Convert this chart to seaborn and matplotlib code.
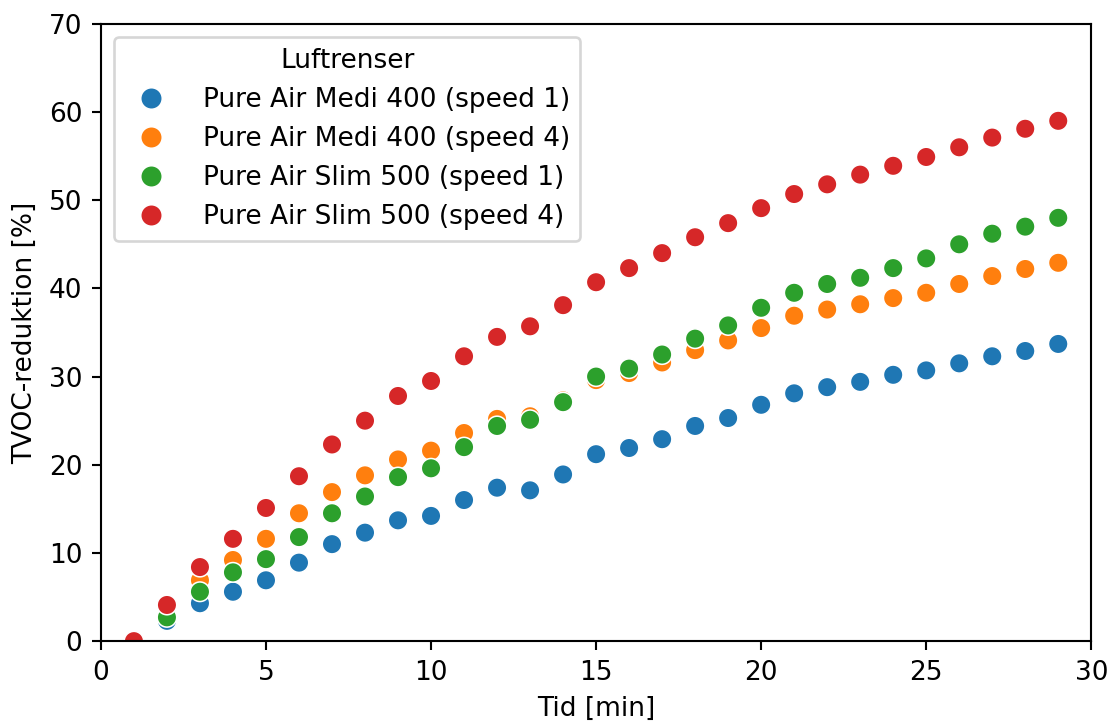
import numpy as np
import pandas as pd
import matplotlib
matplotlib.use("Agg")
import matplotlib.pyplot as plt
import seaborn as sns

# ------------------------------------------------------------
# DATA
# ------------------------------------------------------------
tid = list(range(1, 30))

medi_400_s1 = [0, 2.3, 4.3, 5.6, 6.9, 8.9, 11.0, 12.3, 13.7, 14.2, 16.0, 17.4, 17.1, 18.9,
               21.2, 21.9, 22.9, 24.4, 25.3, 26.8, 28.1, 28.8, 29.4, 30.2, 30.7, 31.5,
               32.3, 32.9, 33.7]
medi_400_s4 = [0, 2.8, 6.9, 9.2, 11.6, 14.5, 16.9, 18.8, 20.6, 21.6, 23.6, 25.2, 25.5, 27.3,
               29.6, 30.4, 31.6, 33.0, 34.1, 35.5, 36.9, 37.6, 38.2, 38.9, 39.5, 40.5,
               41.4, 42.2, 42.9]
slim_500_s1 = [0, 2.7, 5.6, 7.8, 9.3, 11.8, 14.5, 16.4, 18.6, 19.6, 22.0, 24.4, 25.1, 27.1,
               30.0, 30.9, 32.5, 34.3, 35.8, 37.8, 39.5, 40.5, 41.2, 42.3, 43.4, 45.0,
               46.2, 47.0, 48.0]
slim_500_s4 = [0, 4.1, 8.4, 11.6, 15.1, 18.7, 22.3, 25.0, 27.8, 29.5, 32.3, 34.5, 35.7, 38.1,
               40.7, 42.3, 44.0, 45.8, 47.4, 49.1, 50.7, 51.8, 52.9, 53.9, 54.9, 56.0,
               57.1, 58.1, 59.0]

labels = ["Pure Air Medi 400 (speed 1)", "Pure Air Medi 400 (speed 4)",
          "Pure Air Slim 500 (speed 1)", "Pure Air Slim 500 (speed 4)"]
series = [medi_400_s1, medi_400_s4, slim_500_s1, slim_500_s4]

df = pd.concat(
    [pd.DataFrame({"Tid": tid, "Reduktion": vals, "Luftrenser": lab})
     for lab, vals in zip(labels, series)],
    ignore_index=True,
)

# ------------------------------------------------------------
# PLOT
# ------------------------------------------------------------
DPI = 190
fig, ax = plt.subplots(figsize=(1109 / DPI, 722 / DPI), dpi=DPI)

sns.scatterplot(
    data=df,
    x="Tid",
    y="Reduktion",
    hue="Luftrenser",
    hue_order=labels,
    s=55,
    ax=ax,
)

ax.set_xlim(0, 30)
ax.set_ylim(0, 70)
ax.set_xlabel("Tid [min]")
ax.set_ylabel("TVOC-reduktion [%]")

leg = ax.legend(title="Luftrenser", loc="upper left", handletextpad=0.95,
                markerscale=1.1)

fig.subplots_adjust(left=0.091, right=0.984, top=0.967, bottom=0.112)
fig.savefig("out.png", dpi=DPI)
